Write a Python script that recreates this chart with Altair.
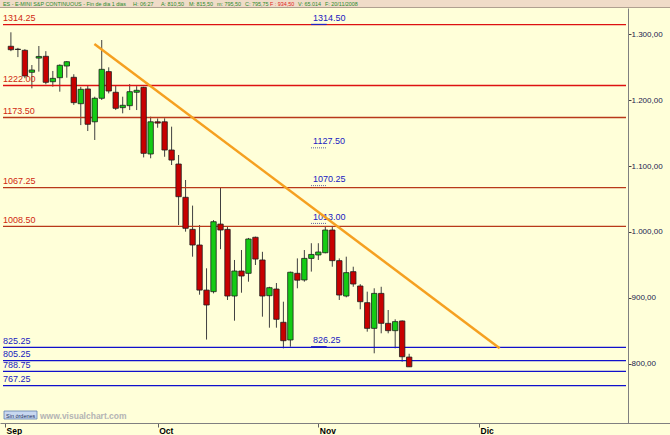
import altair as alt
import pandas as pd

# ---- daily OHLC, ES e-mini continuous, trading-day index 0 = 2 Sep 2008 ----
opens = [1281.4, 1277.0, 1275.3, 1242.0, 1263.5, 1266.2, 1227.7, 1233.8, 1251.5, 1234.4,
         1194.4, 1216.7, 1167.0, 1202.6, 1243.0, 1211.7, 1188.4, 1191.4, 1211.7, 1219.2,
         1118.2, 1167.0, 1167.0, 1124.2, 1103.0, 1052.6, 1004.0, 980.3, 912.0, 909.6,
         1012.0, 1004.0, 903.0, 940.9, 937.4, 992.0, 957.6, 903.5, 913.6, 863.2,
         836.4, 937.4, 927.3, 960.0, 965.2, 968.6, 1003.0, 956.6, 903.0, 939.9,
         918.2, 892.9, 854.0, 907.0, 861.6, 850.5, 865.2, 810.5]
highs = [1302.6, 1279.0, 1277.0, 1253.0, 1281.8, 1274.0, 1244.0, 1254.0, 1259.0, 1239.0,
         1220.0, 1222.7, 1205.0, 1290.9, 1249.5, 1221.7, 1205.0, 1224.0, 1221.0, 1220.0,
         1174.7, 1172.0, 1172.3, 1159.6, 1116.7, 1078.8, 1040.0, 1010.6, 945.0, 1018.0,
         1067.7, 1008.0, 957.6, 972.7, 991.0, 993.0, 970.0, 917.0, 922.7, 894.4,
         940.0, 960.0, 972.7, 983.0, 983.0, 1008.0, 1008.0, 960.0, 962.6, 947.4,
         921.0, 909.6, 914.7, 917.0, 881.8, 867.7, 866.0, 815.5]
lows = [1274.0, 1265.0, 1233.0, 1217.7, 1243.0, 1223.8, 1220.2, 1212.6, 1233.8, 1192.6,
        1162.0, 1153.0, 1139.4, 1200.0, 1210.0, 1184.8, 1179.8, 1184.8, 1184.8, 1113.0,
        1111.7, 1158.0, 1114.0, 1101.5, 1010.6, 1000.5, 962.6, 905.0, 837.0, 907.0,
        974.0, 897.0, 865.6, 908.0, 924.7, 950.0, 871.7, 855.0, 855.0, 823.7,
        826.2, 914.7, 924.7, 940.0, 957.6, 967.7, 947.4, 897.0, 901.0, 917.0,
        882.9, 849.0, 816.2, 846.5, 846.5, 823.7, 803.5, 795.5]
closes = [1276.2, 1276.5, 1236.4, 1245.5, 1266.0, 1226.8, 1232.8, 1252.6, 1258.0, 1196.0,
          1216.2, 1163.2, 1202.6, 1246.5, 1213.6, 1187.4, 1192.0, 1212.6, 1214.7, 1119.2,
          1167.0, 1165.0, 1124.2, 1109.0, 1053.5, 1005.6, 980.3, 912.0, 889.4, 1015.6,
          1003.0, 903.0, 940.9, 933.3, 989.4, 959.0, 903.0, 915.6, 867.7, 835.3,
          939.0, 927.0, 960.0, 966.0, 969.7, 1003.0, 956.6, 904.5, 938.4, 921.2,
          894.4, 854.0, 907.0, 861.6, 850.5, 864.2, 811.0, 795.75]

# horizontal support / resistance levels
red_levels = [1314.25, 1222.00, 1173.50, 1067.25, 1008.50]
red_colors = ["#DD1111", "#DD1111", "#B8381A", "#B8381A", "#B8381A"]
blue_levels = [825.25, 805.25, 788.75, 767.25]

# price notes placed mid-chart
note_values = [1314.50, 1127.50, 1070.25, 1013.00, 826.25]
note_dotted = [False, True, True, True, False]
note_x = 43.25
note_line_x = [42.95, 45.2]

# descending trend line (index, price)
trend_x = [11.95, 69.95]
trend_y = [1285.0, 824.0]

# month ticks on the trading-day index
month_ticks = [-0.845, 21, 44, 67]
month_names = ["Sep", "Oct", "Nov", "Dic"]

# header fields: text, left position, colour
header_fields = [
    ("ES - E-MINI S&P CONTINUOUS - Fin de dia 1 dias", 3, "#2A8A2A"),
    ("H: 06:27", 133, "#2A8A2A"),
    ("A: 810,50", 161, "#2A8A2A"),
    ("M: 815,50", 189, "#2A8A2A"),
    ("m: 795,50", 217, "#2A8A2A"),
    ("C: 795,75", 245, "#2A8A2A"),
    ("F : 934,50", 270, "#E02020"),
    ("V: 65.014", 298, "#2A8A2A"),
    ("F: 20/11/2008", 325, "#2A8A2A"),
]

X_DOMAIN = [-0.845, 87.606]
Y_DOMAIN = [710.6, 1339.4]
W, H = 628, 415
BG = "#FFFFD9"
FONT = "Liberation Sans"

candles = pd.DataFrame({
    "i": list(range(len(opens))),
    "open": opens, "high": highs, "low": lows, "close": closes,
})
candles["up"] = candles["close"] >= candles["open"]

levels = pd.DataFrame({
    "value": red_levels + blue_levels,
    "color": red_colors + ["#1010CC"] * len(blue_levels),
    "tcolor": ["#D02810"] * len(red_levels) + ["#2020C0"] * len(blue_levels),
})
levels["label"] = levels["value"].map(lambda v: f"{v:.2f}")

notes = pd.DataFrame({
    "value": note_values,
    "dotted": note_dotted,
    "x": [note_x] * len(note_values),
    "x0": [note_line_x[0]] * len(note_values),
    "x1": [note_line_x[1]] * len(note_values),
})
notes["label"] = notes["value"].map(lambda v: f"{v:.2f}")

trend = pd.DataFrame({"x": trend_x, "y": trend_y})

xs = alt.Scale(domain=X_DOMAIN, nice=False, zero=False)
ys = alt.Scale(domain=Y_DOMAIN, nice=False, zero=False)

month_expr = ("datum.value < 10 ? 'Sep' : datum.value < 30 ? 'Oct' : "
              "datum.value < 50 ? 'Nov' : 'Dic'")
num_expr = ("replace(replace(replace(format(datum.value, ',.2f'), ',', '#'), "
            "'.', ','), '#', '.')")

x_axis = alt.Axis(values=month_ticks, labelExpr=month_expr, title=None, grid=False,
                  labelAlign="left", labelFontWeight="bold", labelFontSize=8.5,
                  labelFont=FONT, labelColor="#000000", labelOffset=1,
                  labelPadding=-1, labelFlush=False, labelOverlap=False,
                  tickSize=4, tickColor="#606060", domainColor="#808080")
y_axis = alt.Axis(orient="right", values=[800, 900, 1000, 1100, 1200, 1300],
                  labelExpr=num_expr, title=None, grid=False, labelFontSize=8,
                  labelFont=FONT, labelColor="#1A1A50", labelPadding=0,
                  tickSize=3, tickColor="#404040", domainColor="#808080")


def X(field, **kw):
    return alt.X(field, scale=xs, axis=x_axis, **kw)


def Y(field, **kw):
    return alt.Y(field, scale=ys, axis=y_axis, **kw)


one = pd.DataFrame({"a": [0]})

# header strip and footer decorations
header_bg = alt.Chart(one).mark_rect(color="#F0DCC8").encode(
    x=alt.value(0), x2=alt.value(670), y=alt.value(-8), y2=alt.value(-0.5))
header_line = alt.Chart(one).mark_rule(color="#B0A090", strokeWidth=1).encode(
    x=alt.value(0), x2=alt.value(670), y=alt.value(-0.5))
bottom_line = alt.Chart(one).mark_rule(color="#808080", strokeWidth=1).encode(
    x=alt.value(628), x2=alt.value(670), y=alt.value(415.5))

header_texts = [
    alt.Chart(pd.DataFrame({"t": [t]})).mark_text(
        align="left", baseline="middle", fontSize=5.4, font=FONT, color=c).encode(
        x=alt.value(px), y=alt.value(-4), text="t:N")
    for t, px, c in header_fields
]

btn = alt.Chart(one).mark_rect(
    fill="#C8D8F0", stroke="#6080B0", strokeWidth=0.8).encode(
    x=alt.value(4), x2=alt.value(37), y=alt.value(403), y2=alt.value(411))
btn_text = alt.Chart(pd.DataFrame({"t": ["Sin órdenes"]})).mark_text(
    align="left", baseline="middle", fontSize=5.5, font=FONT, color="#203060").encode(
    x=alt.value(6), y=alt.value(407.5), text="t:N")
site_text = alt.Chart(pd.DataFrame({"t": ["www.visualchart.com"]})).mark_text(
    align="left", baseline="middle", fontSize=8.5, font=FONT, fontWeight="bold",
    color="#B4B4B4").encode(x=alt.value(40), y=alt.value(407.5), text="t:N")

# level lines and their labels
level_rules = alt.Chart(levels).mark_rule(strokeWidth=1.3).encode(
    x=alt.value(3), x2=alt.value(626), y=Y("value:Q"),
    color=alt.Color("color:N", scale=None))
level_text = alt.Chart(levels).mark_text(
    align="left", baseline="bottom", dy=-1.5, fontSize=9, font=FONT).encode(
    x=alt.value(3), y=Y("value:Q"),
    text="label:N", color=alt.Color("tcolor:N", scale=None))

note_text = alt.Chart(notes).mark_text(
    align="left", baseline="bottom", dy=-1.5, fontSize=9, font=FONT,
    color="#2020C0").encode(x=X("x:Q"), y=Y("value:Q"), text="label:N")
note_solid = alt.Chart(notes).transform_filter("!datum.dotted").mark_rule(
    color="#2020C0", strokeWidth=1.2).encode(
    x=X("x0:Q"), x2="x1:Q", y=Y("value:Q"))
note_dots = alt.Chart(notes).transform_filter("datum.dotted").mark_rule(
    color="#6060A0", strokeWidth=1, strokeDash=[1, 1]).encode(
    x=X("x0:Q"), x2="x1:Q", y=Y("value:Q"))

# candlesticks
wicks = alt.Chart(candles).mark_rule(color="#404040", strokeWidth=1).encode(
    x=X("i:Q"), y=Y("low:Q"), y2="high:Q")
bodies = alt.Chart(candles).mark_bar(
    width=5.4, stroke="#1E1E1E", strokeWidth=0.8).encode(
    x=X("i:Q"), y=Y("open:Q"), y2="close:Q",
    color=alt.condition("datum.up", alt.value("#14CC14"), alt.value("#C80000")))

trend_line = alt.Chart(trend).mark_line(color="#F5A020", strokeWidth=2.5).encode(
    x=X("x:Q"), y=Y("y:Q"))

chart = alt.layer(
    wicks, header_bg, header_line, bottom_line, *header_texts, btn, btn_text, site_text,
    level_rules, level_text, note_text, note_solid, note_dots,
    bodies, trend_line,
).properties(
    width=W, height=H,
    autosize="none",
    padding={"left": 0, "top": 8, "right": 42, "bottom": 12},
    background=BG,
).configure_view(stroke=None)

chart.save("out.html", embed_options={"renderer": "svg", "actions": False})
